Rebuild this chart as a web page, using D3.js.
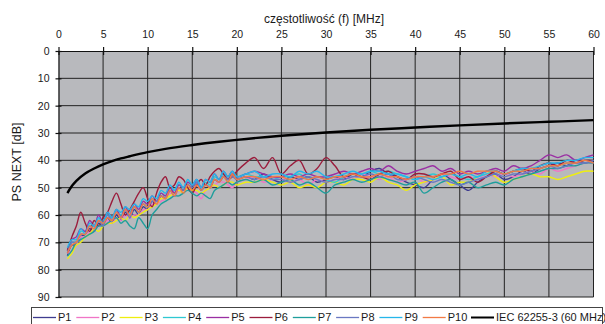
<!DOCTYPE html>
<html>
  <head>
    <meta charset="utf-8">
    <title>PS NEXT</title>
    <script src="https://d3js.org/d3.v7.min.js"></script>
    <style>
      body { margin: 0; background: #fff; }
      text { font-family: "Liberation Sans", Arial, sans-serif; fill: #1a1a1a; }
    </style>
  </head>
  <body>
    <div id="chart"></div>
    <script>
      // frequencies [MHz]
      var freq = [1,1.5,2,2.5,3,3.5,4,4.5,5,5.5,6,6.5,7,7.5,8,8.5,9,9.5,10,10.5,
        11,11.5,12,12.5,13,13.5,14,14.5,15,15.5,16,16.5,17,17.5,18,18.5,19,19.5,20,
        21,22,23,24,25,26,27,28,29,30,31,32,33,34,35,36,37,38,39,40,
        41,42,43,44,45,46,47,48,49,50,51,52,53,54,55,56,57,58,59,60];

      var p1 = [75,71,71,68,67,65,66,63,64,61, 63,60,62,59,61,58,60,57,58,55,
        56,53,54,51,52,50,51,49,50,48, 51,49,50,47,48,46,47,45,47,
        46,47,45,47,48,46,47,46,48,47, 46,47,45,46,44,43,45,46,48,49,
        50,47,45,47,49,51,48,46,45,47, 46,44,45,43,42,41,42,40,41,40];
      var p2 = [74,73,71,68,68,66,66,64,64,62, 63,61,62,60,61,60,60,58,58,56,
        56,55,54,52,53,51,52,50,51,52, 54,51,50,49,48,48,49,50,48,
        47,46,48,47,46,48,47,49,47,48, 47,46,47,45,46,47,46,48,47,46,
        48,47,45,46,47,46,47,45,46,45, 46,45,44,45,43,44,43,42,41,41];
      var p3 = [76,74,71,70,68,67,65,66,64,63, 63,62,61,62,60,61,60,59,58,57,
        56,54,54,53,52,51,52,50,51,51, 52,51,50,49,50,49,48,48,49,
        48,48,47,48,49,48,50,49,50,48, 48,49,47,47,48,46,48,49,51,49,
        48,47,46,49,48,48,46,44,46,48, 47,46,45,46,46,47,46,45,44,44];
      var p4 = [73,70,70,66,66,64,64,62,62,60, 61,59,60,58,59,57,59,56,57,54,
        55,52,53,50,51,49,50,48,49,47, 50,48,49,46,47,45,46,44,46,
        45,46,46,47,46,46,45,47,46,47, 48,46,45,45,44,45,44,45,46,47,
        46,45,46,45,46,47,46,45,44,45, 44,44,43,43,42,42,41,41,40,40];
      var p5 = [73,69,68,65,66,62,64,60,63,59, 61,58,61,57,60,56,58,55,56,53,
        55,52,53,50,52,49,50,48,49,47, 50,47,48,45,47,44,46,44,46,
        45,44,45,46,46,45,46,45,46,46, 45,44,45,44,43,44,42,44,45,44,
        43,42,44,43,45,44,45,44,43,44, 42,43,42,40,38,39,38,40,39,38];
      var p6 = [73,68,64,59,63,66,62,64,61,59, 55,52,56,60,58,55,52,50,54,57,
        52,48,46,50,49,46,47,50,52,49, 47,49,46,44,43,45,47,46,44,
        41,39,43,39,45,42,40,45,43,39, 42,46,45,46,47,45,44,46,47,45,
        45,46,45,44,47,46,48,46,44,45, 44,43,44,42,41,42,40,41,40,40];
      var p7 = [75,73,70,69,68,67,66,64,64,63, 62,61,63,62,64,65,61,63,65,60,
        58,56,55,54,53,53,52,51,52,53, 52,53,54,51,50,49,48,49,48,
        47,48,47,49,48,47,49,48,50,52, 49,48,47,48,47,46,47,48,49,48,
        52,50,48,47,49,48,50,49,48,49, 47,46,45,44,43,43,42,42,41,41];
      var p8 = [74,70,70,67,67,64,65,62,64,60, 62,59,61,58,61,57,59,56,57,55,
        55,53,54,51,53,50,51,49,50,48, 51,49,50,47,48,46,47,46,47,
        46,47,46,47,47,48,47,46,47,48, 47,47,46,46,45,46,45,47,47,46,
        47,48,47,48,49,48,47,46,45,46, 45,45,44,43,42,43,42,41,41,40];
      var p9 = [72,69,69,65,67,63,64,61,63,59, 61,58,59,57,58,56,57,54,55,53,
        54,51,52,49,51,48,50,47,49,47, 50,47,48,45,47,44,46,44,46,
        45,44,46,45,45,46,44,45,44,46, 46,45,44,45,44,44,45,45,46,47,
        46,47,46,45,46,45,46,44,44,45, 44,43,43,42,41,41,40,40,39,39];
      var p10 = [74,71,70,67,67,64,65,62,63,61, 62,59,61,58,60,57,59,56,57,54,
        56,53,54,51,53,50,52,49,51,49, 51,49,50,47,48,46,48,45,47,
        46,46,47,46,46,47,46,47,46,47, 46,46,45,46,46,45,46,46,47,46,
        46,46,45,45,44,45,44,44,44,45, 44,44,43,43,42,42,41,41,40,41];

      // IEC 62255-3 limit line
      var iecFreq = [1,1.5,2,3,4,5,6,7,8,10,12,15,18,20,25,30,35,40,45,50,55,60];
      var iec = [52.0,49.4,47.5,44.8,43.0,41.5,40.3,39.3,38.5,37.0,35.8,34.4,33.2,32.5,31.0,29.8,28.8,28.0,27.2,26.5,25.9,25.3];

      var names = ["P1","P2","P3","P4","P5","P6","P7","P8","P9","P10"];
      var colors = ["#3f3c8f","#f075c6","#eeee10","#2fc8d2","#9a2fa3","#9b1c3c","#1f9e9c","#6a78c2","#25b6ea","#f27a45"];
      var xTicks = [0,5,10,15,20,25,30,35,40,45,50,55,60];
      var yTicks = [0,10,20,30,40,50,60,70,80,90];

      var series = [p1,p2,p3,p4,p5,p6,p7,p8,p9,p10].map(function(v, i) {
        return { name: names[i], color: colors[i],
          values: v.map(function(d, j) { return { f: freq[j], db: d }; }) };
      });

      var W = 605, H = 324;
      var svg = d3.select("#chart").append("svg")
        .attr("width", W).attr("height", H);

      var x = d3.scaleLinear().domain([0, 60]).range([58.5, 593.5]);
      var y = d3.scaleLinear().domain([0, 90]).range([51, 297]);

      // plot background
      svg.append("rect")
        .attr("x", x(0)).attr("y", y(0))
        .attr("width", x(60) - x(0)).attr("height", y(90) - y(0))
        .attr("fill", "#b8b9bd");

      // grid
      svg.append("g").selectAll("line")
        .data(xTicks.slice(1))
        .enter().append("line")
        .attr("x1", function(d) { return x(d); }).attr("x2", function(d) { return x(d); })
        .attr("y1", y(0)).attr("y2", y(90))
        .attr("stroke", "#222").attr("stroke-width", 1);
      svg.append("g").selectAll("line")
        .data(yTicks.slice(1))
        .enter().append("line")
        .attr("x1", x(0)).attr("x2", x(60))
        .attr("y1", function(d) { return y(d); }).attr("y2", function(d) { return y(d); })
        .attr("stroke", "#222").attr("stroke-width", 1);

      // axes
      var xAxis = svg.append("g")
        .attr("transform", "translate(0," + y(0) + ")")
        .call(d3.axisTop(x).tickValues(xTicks).tickSizeInner(4).tickSizeOuter(0).tickPadding(9));
      var yAxis = svg.append("g")
        .attr("transform", "translate(" + x(0) + ",0)")
        .call(d3.axisLeft(y).tickValues(yTicks).tickSizeInner(3).tickSizeOuter(0).tickPadding(6));
      [xAxis, yAxis].forEach(function(a) {
        a.select(".domain").attr("stroke", "#111").attr("stroke-width", 1.2);
        a.selectAll(".tick line").attr("stroke", "#111").attr("stroke-width", 1.2);
        a.selectAll("text").attr("font-size", "10.5px").attr("fill", "#1a1a1a")
          .attr("font-family", "Liberation Sans, Arial, sans-serif");
      });
      // ticks cross the axis line
      xAxis.selectAll(".tick line").attr("y1", 4).attr("y2", -4);
      yAxis.selectAll(".tick line").attr("x1", 3).attr("x2", -3);

      svg.append("text")
        .attr("x", 324).attr("y", 23)
        .attr("text-anchor", "middle").attr("font-size", "12px")
        .text("częstotliwość (f) [MHz]");
      svg.append("text")
        .attr("transform", "translate(21,162) rotate(-90)")
        .attr("text-anchor", "middle").attr("font-size", "12.5px")
        .text("PS NEXT [dB]");

      // measured pairs
      var line = d3.line()
        .x(function(d) { return x(d.f); })
        .y(function(d) { return y(d.db); })
        .curve(d3.curveCatmullRom.alpha(0.5));
      svg.append("g").selectAll("path")
        .data(series)
        .enter().append("path")
        .attr("d", function(d) { return line(d.values); })
        .attr("fill", "none")
        .attr("stroke", function(d) { return d.color; })
        .attr("stroke-width", 1.4);

      var limit = iecFreq.map(function(f, i) { return { f: f, db: iec[i] }; });
      svg.append("path")
        .attr("d", line.curve(d3.curveMonotoneX)(limit))
        .attr("fill", "none").attr("stroke", "#000").attr("stroke-width", 2.4);

      // legend
      var leg = svg.append("g");
      leg.append("rect")
        .attr("x", 31.5).attr("y", 307.5).attr("width", 571).attr("height", 30)
        .attr("fill", "#fff").attr("stroke", "#444").attr("stroke-width", 1);
      var items = series.map(function(s) { return { name: s.name, color: s.color, w: 1.3 }; });
      items.push({ name: "IEC 62255-3 (60 MHz)", color: "#000", w: 2 });
      var item = leg.selectAll(".item")
        .data(items)
        .enter().append("g")
        .attr("transform", function(d, i) {
          var lx = i < 10 ? 33 + i * 43.3 : 471;
          return "translate(" + lx + ",317.5)";
        });
      item.append("line")
        .attr("x1", 0).attr("x2", 23)
        .attr("stroke", function(d) { return d.color; })
        .attr("stroke-width", function(d) { return d.w; });
      item.append("text")
        .attr("x", 25).attr("dy", "0.36em")
        .attr("font-size", "11px")
        .text(function(d) { return d.name; });
    </script>
  </body>
</html>
